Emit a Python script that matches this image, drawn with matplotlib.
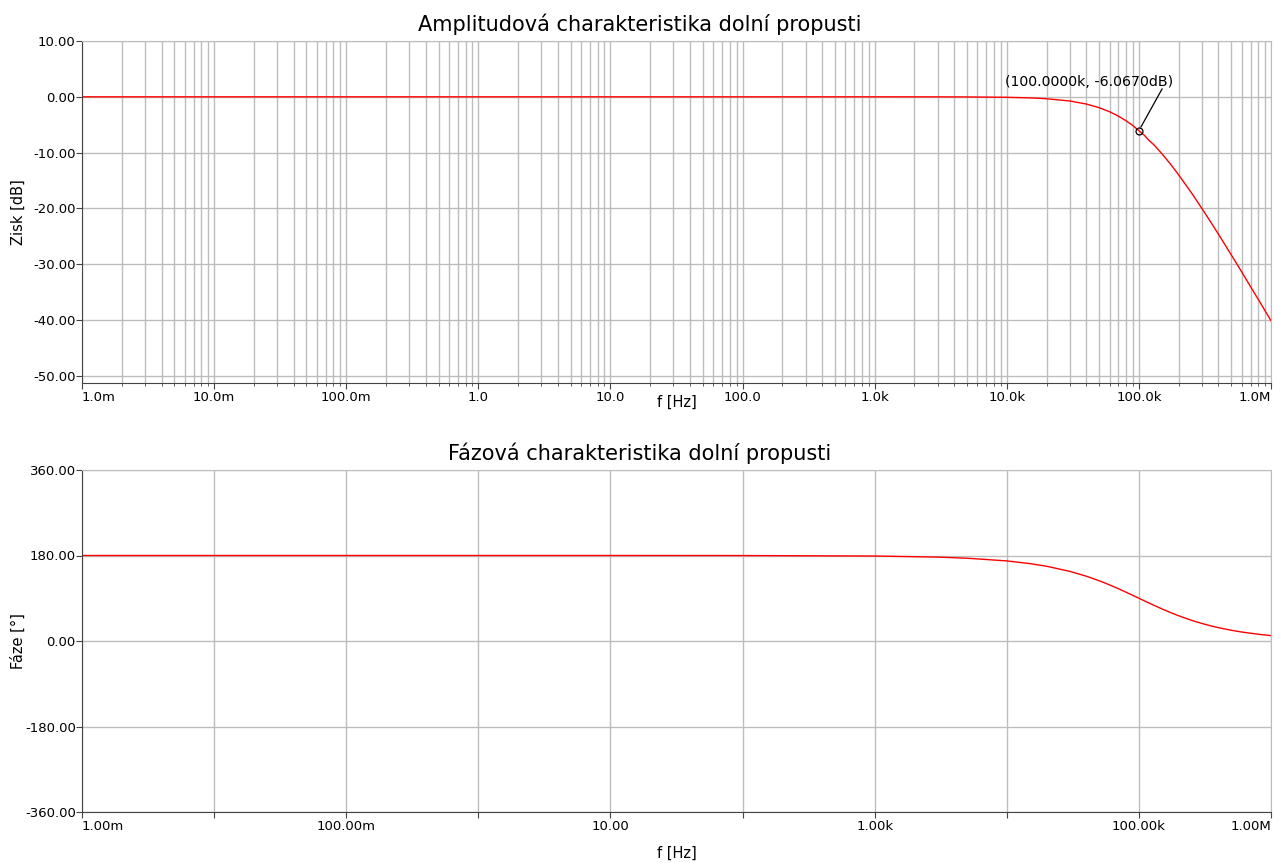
import matplotlib
matplotlib.use("Agg")
import matplotlib.pyplot as plt
from matplotlib.ticker import FixedLocator, LogLocator, NullFormatter

# ---- data ----
freq_hz = [1e-3, 1e-2, 1e-1, 1e0, 1e1, 1e2, 1e3, 3e3, 5e3, 1e4, 1.5e4, 2e4, 3e4, 4e4,
           5e4, 6e4, 7e4, 8e4, 9e4, 1e5, 1.1e5, 1.2e5, 1.3e5, 1.5e5, 1.75e5, 2e5, 2.5e5,
           3e5, 3.5e5, 4e5, 5e5, 6e5, 7e5, 8.5e5, 1e6]
gain_db = [0.0, 0.0, 0.0, 0.0, 0.0, 0.0, -0.001, -0.008, -0.02, -0.086, -0.19, -0.34,
           -0.75, -1.29, -1.94, -2.67, -3.46, -4.29, -5.15, -6.07, -6.89, -7.87, -8.6,
           -10.24, -12.17, -13.98, -17.2, -20.0, -22.44, -24.6, -28.3, -31.36, -34.0,
           -37.3, -40.1]
phase_deg = [180.0, 180.0, 180.0, 180.0, 180.0, 179.9, 178.9, 176.6, 174.3, 168.6, 162.9,
             157.4, 146.6, 136.4, 126.9, 118.1, 110.0, 102.7, 96.0, 90.0, 84.5, 79.6,
             75.1, 67.4, 59.5, 53.1, 43.6, 36.9, 31.9, 28.1, 22.6, 18.9, 16.3, 13.4, 11.4]

marker_f = 1e5
marker_gain = -6.067
marker_text = "(100.0000k, -6.0670dB)"

top_xticks = [1e-3, 1e-2, 1e-1, 1e0, 1e1, 1e2, 1e3, 1e4, 1e5, 1e6]
top_xlabels = ["1.0m", "10.0m", "100.0m", "1.0", "10.0", "100.0", "1.0k", "10.0k", "100.0k", "1.0M"]
top_yticks = [10, 0, -10, -20, -30, -40, -50]
top_ylabels = ["10.00", "0.00", "-10.00", "-20.00", "-30.00", "-40.00", "-50.00"]

bot_xticks = [1e-3, 1e-2, 1e-1, 1e0, 1e1, 1e2, 1e3, 1e4, 1e5, 1e6]
bot_xlabels = ["1.00m", "", "100.00m", "", "10.00", "", "1.00k", "", "100.00k", "1.00M"]
bot_yticks = [360, 180, 0, -180, -360]
bot_ylabels = ["360.00", "180.00", "0.00", "-180.00", "-360.00"]

title_top = "Amplitudová charakteristika dolní propusti"
title_bot = "Fázová charakteristika dolní propusti"

plt.rcParams['font.family'] = ['DejaVu Sans']

fig = plt.figure(figsize=(12.74, 8.63), dpi=100)
W, H = 1274, 863
ax1 = fig.add_axes([82 / W, (H - 383) / H, 1189 / W, 342 / H])
ax2 = fig.add_axes([82 / W, (H - 812) / H, 1189 / W, 342 / H])

grid_col = "#bdbdbd"
spine_col = "#444444"
title_x = (640 - 82) / 1189

for ax in (ax1, ax2):
    ax.set_xscale("log")
    ax.set_xlim(1e-3, 1e6)
    ax.spines["left"].set_color(spine_col)
    ax.spines["bottom"].set_color(spine_col)
    ax.spines["top"].set_color(grid_col)
    ax.spines["right"].set_color(grid_col)
    ax.tick_params(axis="both", which="major", direction="out", length=4,
                   color=spine_col, labelsize=9.5)
    ax.tick_params(axis="x", which="major", pad=2)
    ax.tick_params(axis="y", which="major", pad=0.5)
    ax.tick_params(axis="x", which="minor", direction="out", length=2, color=spine_col)

# ---- top: gain ----
ax1.plot(freq_hz, gain_db, color="red", lw=1.0)
ax1.set_ylim(-51.26, 10)
ax1.xaxis.set_major_locator(FixedLocator(top_xticks))
ax1.set_xticklabels(top_xlabels)
ax1.xaxis.set_minor_locator(LogLocator(base=10, subs=[2, 3, 4, 5, 6, 7, 8, 9], numticks=30))
ax1.xaxis.set_minor_formatter(NullFormatter())
ax1.set_yticks(top_yticks)
ax1.set_yticklabels(top_ylabels)
ax1.grid(True, which="major", color=grid_col, lw=1.0)
ax1.grid(True, which="minor", axis="x", color=grid_col, lw=1.0)
ax1.set_axisbelow(True)
ax1.set_title(title_top, fontsize=15, pad=7, x=title_x)
ax1.set_xlabel("f [Hz]", fontsize=10.5)
ax1.xaxis.set_label_coords(0.5, -0.034)
ax1.set_ylabel("Zisk [dB]", fontsize=10.5)
ax1.yaxis.set_label_coords(-0.047, 0.5)
labs = ax1.get_xticklabels()
labs[0].set_ha("left")
labs[-1].set_ha("right")

ax1.plot([marker_f], [marker_gain], marker="o", ms=5, mfc="none", mec="black", mew=0.9)
ax1.annotate("", xy=(marker_f, marker_gain), xytext=(1.5e5, 1.44), textcoords="data",
             arrowprops=dict(arrowstyle="-", color="black", lw=0.9, shrinkA=0, shrinkB=3))
ax1.text(4.2e4, 2.6, marker_text, ha="center", va="center", fontsize=10.2)

# ---- bottom: phase ----
ax2.plot(freq_hz, phase_deg, color="red", lw=1.0)
ax2.set_ylim(-360, 360)
ax2.xaxis.set_major_locator(FixedLocator(bot_xticks))
ax2.set_xticklabels(bot_xlabels)
ax2.xaxis.set_minor_locator(FixedLocator([]))
ax2.set_yticks(bot_yticks)
ax2.set_yticklabels(bot_ylabels)
ax2.grid(True, which="major", color=grid_col, lw=1.0)
ax2.set_axisbelow(True)
ax2.set_title(title_bot, fontsize=15, pad=7, x=title_x)
ax2.set_xlabel("f [Hz]", fontsize=10.5)
ax2.xaxis.set_label_coords(0.5, -0.098)
ax2.set_ylabel("Fáze [°]", fontsize=10.5)
ax2.yaxis.set_label_coords(-0.047, 0.5)
labs = ax2.get_xticklabels()
labs[0].set_ha("left")
labs[-1].set_ha("right")

fig.savefig("out.png", dpi=100)
